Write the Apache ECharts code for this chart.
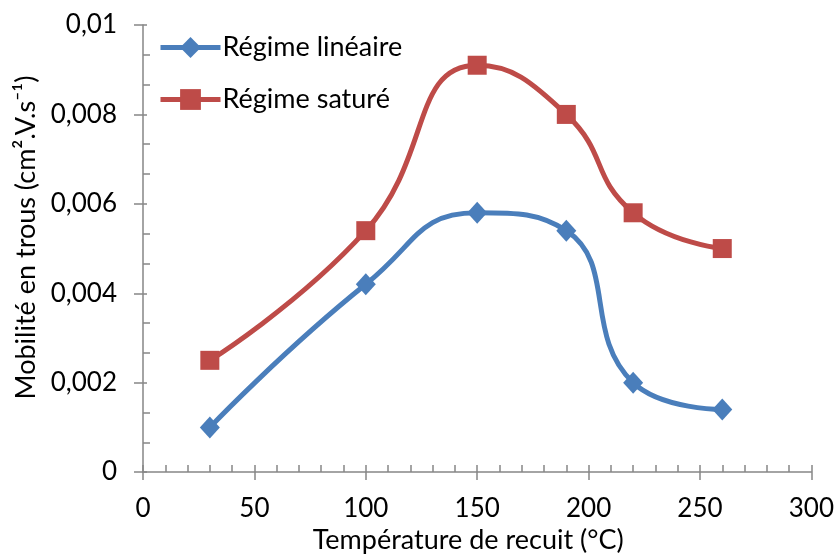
<!DOCTYPE html>
<html><head><meta charset="utf-8">
<script src="https://cdn.jsdelivr.net/npm/echarts@6/dist/echarts.min.js"></script>
<style>html,body{margin:0;padding:0;background:#fff}#c{width:837px;height:559px}</style>
</head><body><div id="c"></div>
<script>
const temperatures = [30, 100, 150, 190, 220, 260];
const lineaire = [0.001, 0.0042, 0.0058, 0.0054, 0.002, 0.0014];
const sature = [0.0025, 0.0054, 0.0091, 0.008, 0.0058, 0.005];
const seriesNames = ['Régime linéaire', 'Régime saturé'];
const xTitle = 'Température de recuit (°C)';
const yTitle = 'Mobilité en trous (cm².V.s⁻¹)';

const FONT = 'Lato, "Open Sans", sans-serif';
const AX = '#868686';
const chart = echarts.init(document.getElementById('c'));
const fmtY = v => parseFloat(v.toFixed(4)).toString().replace('.', ',');
const pair = (xs, ys) => xs.map((x, i) => [x, ys[i]]);

chart.setOption({
  animation: false,
  grid: {left: 143, right: 24, top: 25, bottom: 84},
  legend: {
    orient: 'vertical', left: 153, top: 29,
    itemWidth: 60, itemHeight: 26, itemGap: 25,
    lineStyle: {width: 5},
    textStyle: {fontFamily: FONT, fontSize: 27, color: '#000', padding: [0, 0, 0, -3]},
    data: seriesNames
  },
  xAxis: [{
    type: 'value', min: 0, max: 300, interval: 50,
    axisLine: {lineStyle: {color: AX, width: 1.5}},
    axisTick: {show: true, inside: false, length: 8, lineStyle: {color: AX, width: 1.5}},
    splitLine: {show: false},
    axisLabel: {fontFamily: FONT, fontSize: 26, color: '#000', margin: 24},
    name: xTitle, nameLocation: 'middle', nameGap: 50,
    nameTextStyle: {fontFamily: FONT, fontSize: 27, color: '#000', padding: [0, 18, 0, 0]}
  }, {
    type: 'value', min: 0, max: 300, interval: 50, position: 'bottom',
    axisLine: {show: false}, axisLabel: {show: false}, splitLine: {show: false},
    axisTick: {show: true, inside: true, length: 7, lineStyle: {color: AX, width: 1.5}},
    minorTick: {show: true, splitNumber: 5, length: 7, lineStyle: {color: AX, width: 1.5}}
  }],
  yAxis: [{
    type: 'value', min: 0, max: 0.01, interval: 0.002,
    axisLine: {show: true, lineStyle: {color: AX, width: 1.5}},
    axisTick: {show: true, inside: false, length: 9, lineStyle: {color: AX, width: 1.5}},
    splitLine: {show: false},
    axisLabel: {fontFamily: FONT, fontSize: 26, color: '#000', margin: 26, formatter: fmtY},
    name: yTitle, nameLocation: 'middle', nameGap: 100,
    nameTextStyle: {fontFamily: FONT, fontSize: 27, color: '#000', padding: [0, 0, 0, 22]}
  }, {
    type: 'value', min: 0, max: 0.01, interval: 0.002, position: 'left',
    axisLine: {show: false}, axisLabel: {show: false}, splitLine: {show: false},
    axisTick: {show: true, inside: true, length: 4, lineStyle: {color: AX, width: 1.5}},
    minorTick: {show: true, splitNumber: 3, length: 7, lineStyle: {color: AX, width: 1.5}}
  }],
  series: [{
    name: seriesNames[0], type: 'line', smooth: 0.5,
    data: pair(temperatures, lineaire),
    symbol: 'diamond', symbolSize: [20, 22],
    itemStyle: {color: '#4A7EBB'},
    lineStyle: {color: '#4A7EBB', width: 5}
  }, {
    name: seriesNames[1], type: 'line', smooth: 0.5,
    data: pair(temperatures, sature),
    symbol: 'rect', symbolSize: 19,
    itemStyle: {color: '#BE4B48'},
    lineStyle: {color: '#BE4B48', width: 5}
  }]
});
</script></body></html>
